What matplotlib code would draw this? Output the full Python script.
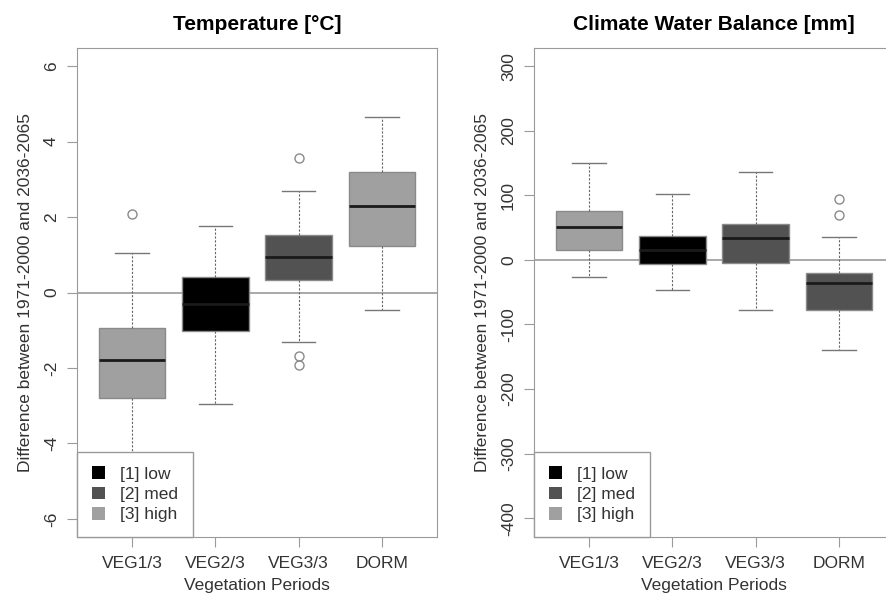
import numpy as np
import matplotlib.pyplot as plt
from matplotlib.patches import Patch

plt.rcParams['font.family'] = ['Liberation Sans', 'DejaVu Sans']
plt.rcParams['axes.unicode_minus'] = False

periods = ['VEG1/3', 'VEG2/3', 'VEG3/3', 'DORM']
levelNames = ['[1] low', '[2] med', '[3] high']
levelColors = ['#000000', '#525252', '#a0a0a0']

# Temperature [°C]
tempLevel = [2, 0, 1, 2]
tempWhisLo = [-5.2, -2.96, -1.32, -0.47]
tempQ1 = [-2.80, -1.03, 0.32, 1.24]
tempMed = [-1.80, -0.30, 0.95, 2.28]
tempQ3 = [-0.93, 0.40, 1.53, 3.20]
tempWhisHi = [1.06, 1.75, 2.70, 4.66]
tempFliers = [[2.09], [], [3.57, -1.67, -1.93], []]

# Climate Water Balance [mm]
cwbLevel = [2, 0, 1, 1]
cwbWhisLo = [-26, -46, -78, -139]
cwbQ1 = [15, -6, -5, -77]
cwbMed = [51, 15, 34, -36]
cwbQ3 = [76, 37, 56, -20]
cwbWhisHi = [150, 102, 136, 36]
cwbFliers = [[], [], [], [94, 70]]

textColor = '#333333'
frameColor = '#9a9a9a'


def drawPanel(ax, title, lo, q1, med, q3, hi, fliers, level, ylim, yticks):
    stats = []
    for i in range(len(periods)):
        stats.append({'whislo': lo[i], 'q1': q1[i], 'med': med[i], 'q3': q3[i],
                      'whishi': hi[i], 'fliers': fliers[i], 'label': periods[i]})
    ax.axhline(0, color=frameColor, linewidth=1.2, zorder=0)
    bp = ax.bxp(stats, positions=np.arange(1, len(periods) + 1), widths=0.8,
                patch_artist=True, capwidths=0.4,
                boxprops=dict(edgecolor='#8a8a8a', linewidth=1),
                medianprops=dict(color='#1a1a1a', linewidth=2),
                whiskerprops=dict(color='#666666', linewidth=0.8, linestyle=(0, (2, 1.5))),
                capprops=dict(color='#777777', linewidth=1),
                flierprops=dict(marker='o', markerfacecolor='none',
                                markeredgecolor='#8a8a8a', markersize=6.5, markeredgewidth=1))
    for box, lv in zip(bp['boxes'], level):
        box.set_facecolor(levelColors[lv])

    ax.set_xlim(0.34, 4.66)
    ax.set_ylim(*ylim)
    ax.set_yticks(yticks)
    ax.set_xticks(np.arange(1, len(periods) + 1))
    ax.set_xticklabels(periods)
    for s in ax.spines.values():
        s.set_color(frameColor)
    ax.tick_params(colors=frameColor, labelcolor=textColor, length=7, labelsize=12.5)
    ax.tick_params(axis='y', pad=6)
    ax.tick_params(axis='x', pad=7)
    plt.setp(ax.get_yticklabels(), rotation=90, va='center')

    ax.set_title(title, fontsize=15, fontweight='bold', pad=13)
    ax.set_xlabel('Vegetation Periods', fontsize=12.5, color=textColor, labelpad=5)
    ax.set_ylabel('Difference between 1971-2000 and 2036-2065', fontsize=12.5,
                  color=textColor, labelpad=8)

    handles = [Patch(facecolor=c, edgecolor='none') for c in levelColors]
    leg = ax.legend(handles, levelNames, loc='lower left', fontsize=12.5,
                    frameon=True, fancybox=False, framealpha=1, borderaxespad=0,
                    handlelength=0.75, handleheight=0.75, handletextpad=0.9,
                    labelspacing=0.28, borderpad=0.85, labelcolor=textColor)
    leg.get_frame().set_edgecolor(frameColor)
    leg.get_frame().set_linewidth(1)


fig = plt.figure(figsize=(8.87, 6.01), dpi=100)
ax1 = fig.add_axes([77 / 887, 1 - 537 / 601, 360 / 887, 489 / 601])
ax2 = fig.add_axes([534 / 887, 1 - 537 / 601, 360 / 887, 489 / 601])

drawPanel(ax1, 'Temperature [°C]', tempWhisLo, tempQ1, tempMed, tempQ3, tempWhisHi,
          tempFliers, tempLevel, (-6.48, 6.48), np.arange(-6, 7, 2))
drawPanel(ax2, 'Climate Water Balance [mm]', cwbWhisLo, cwbQ1, cwbMed, cwbQ3, cwbWhisHi,
          cwbFliers, cwbLevel, (-429, 328), np.arange(-400, 301, 100))

plt.savefig('out.png', dpi=100)
